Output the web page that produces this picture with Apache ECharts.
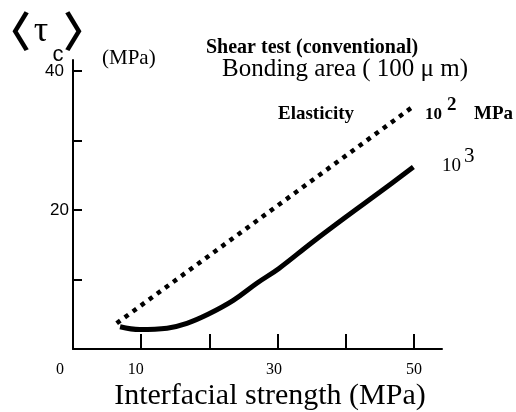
<!DOCTYPE html>
<html>
<head>
<meta charset="utf-8">
<script src="https://cdn.jsdelivr.net/npm/echarts@6/dist/echarts.min.js"></script>
<style>
html, body { margin: 0; padding: 0; background: #fff; }
#main { width: 516px; height: 412px; }
</style>
</head>
<body>
<div id="main"></div>
<script>
// elasticity (10^2 MPa) - dotted line
var elasticX = [6.4, 50];
var elasticY = [3.7, 35.0];
// 10^3 MPa - solid curve
var curveX = [6.9, 9.8, 13.8, 16.7, 19.8, 23.5, 27, 30.2, 35, 40, 45, 49.9];
var curveY = [3.2, 2.8, 3.0, 3.7, 5.0, 7.0, 9.5, 11.6, 15.3, 19.0, 22.6, 26.2];

var xTicks = [10, 20, 30, 40, 50];
var xLabels = [0, 10, 30, 50];
var yTicks = [10, 20, 30, 40];
var yLabels = [20, 40];

function pairs(xs, ys) {
    var out = [];
    for (var i = 0; i < xs.length; i++) out.push([xs[i], ys[i]]);
    return out;
}

var serif = '"Liberation Serif", "DejaVu Serif", serif';
var sans = '"Liberation Sans", Arial, sans-serif';

function txt(text, x, y, size, opts) {
    opts = opts || {};
    return {
        type: 'text',
        x: x,
        y: y,
        style: {
            text: text,
            fill: '#000',
            font: (opts.bold ? 'bold ' : '') + size + 'px ' + (opts.family || serif),
            textAlign: opts.align || 'left',
            textVerticalAlign: 'middle'
        }
    };
}

var chart = echarts.init(document.getElementById('main'));
var option = {
    animation: false,
    grid: { left: 73, right: 74, top: 60, bottom: 63 },
    xAxis: {
        type: 'value',
        min: 0,
        max: 54.1,
        splitLine: { show: false },
        axisLine: { lineStyle: { color: '#000', width: 2 } },
        axisTick: {
            inside: true, length: 15,
            customValues: xTicks,
            lineStyle: { color: '#000', width: 2 }
        },
        axisLabel: {
            customValues: xLabels,
            margin: 13,
            color: '#000',
            fontFamily: serif,
            fontSize: 16,
            formatter: function (v) {
                if (v === 0) return '{z|0}';
                if (v === 10) return '{a|10}';
                if (v === 30) return '{b|30}';
                return '{c|' + v + '}';
            },
            rich: {
                z: { fontFamily: serif, fontSize: 16, color: '#000', padding: [0, 26, 0, 0] },
                a: { fontFamily: serif, fontSize: 16, color: '#000', padding: [0, 11, 0, 0] },
                b: { fontFamily: serif, fontSize: 16, color: '#000', padding: [0, 7, 0, 0] },
                c: { fontFamily: serif, fontSize: 16, color: '#000' }
            }
        }
    },
    yAxis: {
        type: 'value',
        min: 0,
        max: 41.6,
        splitLine: { show: false },
        axisLine: { lineStyle: { color: '#000', width: 2 } },
        axisTick: {
            inside: true, length: 9,
            customValues: yTicks,
            lineStyle: { color: '#000', width: 2 }
        },
        axisLabel: {
            customValues: yLabels,
            margin: 4,
            color: '#000',
            fontFamily: sans,
            fontSize: 17,
            formatter: function (v) {
                return v === 40 ? '{f|40}' : '{t|' + v + '}';
            },
            rich: {
                f: { fontFamily: sans, fontSize: 17, color: '#000', padding: [0, 5, 0, 0] },
                t: { fontFamily: sans, fontSize: 17, color: '#000' }
            }
        }
    },
    series: [
        {
            name: 'Elasticity',
            type: 'line',
            showSymbol: false,
            data: pairs(elasticX, elasticY),
            lineStyle: { color: '#000', width: 4.5, type: [4.5, 5.5], cap: 'butt' }
        },
        {
            name: '10^3',
            type: 'line',
            showSymbol: false,
            smooth: 0.4,
            data: pairs(curveX, curveY),
            lineStyle: { color: '#000', width: 5 }
        }
    ],
    graphic: [
        txt('〈', 10, 31, 42, { bold: true, family: '"Noto Sans CJK JP"', align: 'center' }),
        txt('τ', 41, 31.5, 36, { align: 'center' }),
        txt('c', 58, 55, 22, { family: sans, align: 'center' }),
        txt('〉', 84, 31, 42, { bold: true, family: '"Noto Sans CJK JP"', align: 'center' }),
        txt('(MPa)', 102, 58, 21),
        txt('Shear test (conventional)', 206, 48, 20, { bold: true }),
        txt('Bonding area ( 100 μ m)', 222, 69, 25),
        txt('Elasticity', 278, 114, 19, { bold: true }),
        txt('10', 425, 115, 17, { bold: true }),
        txt('2', 447, 105.5, 19, { bold: true }),
        txt('MPa', 474, 114, 19, { bold: true }),
        txt('10', 442, 166.5, 19),
        txt('3', 464, 156, 21),
        txt('Interfacial strength (MPa)', 270, 396, 30, { align: 'center' })
    ]
};
chart.setOption(option);
</script>
</body>
</html>
